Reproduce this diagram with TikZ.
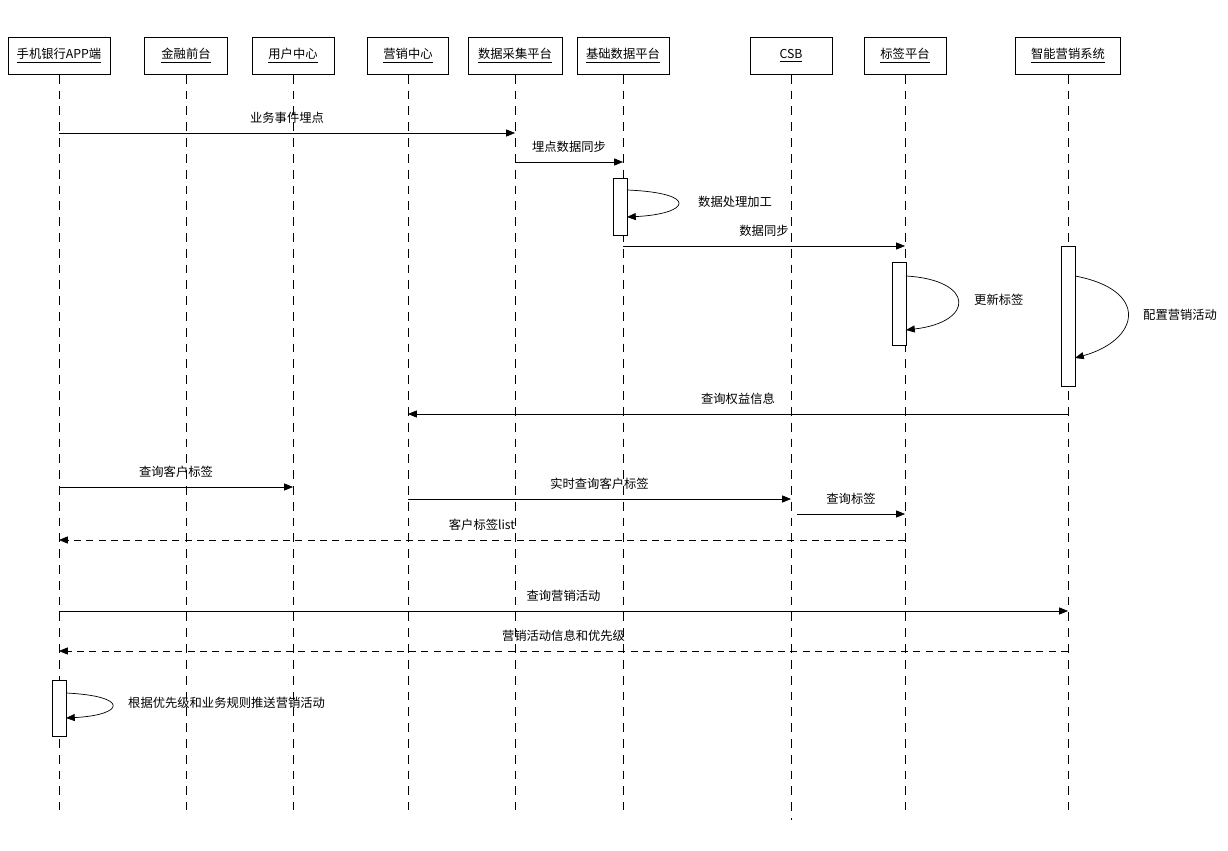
\documentclass[tikz,border=0pt]{standalone}
\usepackage{fontspec}
\newfontfamily\cjk{Noto Sans CJK SC}
\usetikzlibrary{arrows.meta, positioning}
\tikzset{
  head/.style  = {draw, minimum width=#1, minimum height=0.74cm, inner sep=1pt, font=\cjk\fontsize{7}{8}\selectfont},
  life/.style  = {draw, dash pattern=on 5pt off 4pt},
  msg/.style   = {draw, -{Triangle[length=5pt,width=4pt]}},
  reply/.style = {msg, dash pattern=on 4pt off 3pt},
  act/.style   = {draw, fill=white, minimum width=0.28cm, inner sep=0pt},
  lbl/.style   = {font=\cjk\fontsize{7}{8}\selectfont}
}
\begin{document}
\begin{tikzpicture}[x=0.02cm, y=-0.02cm]
\useasboundingbox (0,0) rectangle (1228,851);

% heads
\node [head=2.04cm] (app) at (59,  56) {\underline{手机银行APP端}};
\node [head=1.66cm] (fin) at (186, 56) {\underline{金融前台}};
\node [head=1.64cm] (usr) at (293, 56) {\underline{用户中心}};
\node [head=1.62cm] (mkt) at (408, 56) {\underline{营销中心}};
\node [head=1.88cm] (col) at (515, 56) {\underline{数据采集平台}};
\node [head=1.84cm] (bas) at (623, 56) {\underline{基础数据平台}};
\node [head=1.64cm] (csb) at (791, 56) {\underline{CSB}};
\node [head=1.64cm] (tag) at (905, 56) {\underline{标签平台}};
\node [head=2.10cm] (ism) at (1068,56) {\underline{智能营销系统}};

% lifelines
\foreach \n/\x/\e in {app/59/810, fin/186/810, usr/293/810, mkt/408/810, col/515/810,
                      bas/623/810, csb/791/820, tag/905/810, ism/1068/810} {
  \coordinate (\n end) at (\x,\e);
  \path [life] (\n) -- (\n end);
}

% activations
\node [act, minimum height=1.14cm, anchor=north] (a1) at (620,178) {};
\node [act, minimum height=1.66cm, anchor=north] (a2) at (899,262) {};
\node [act, minimum height=2.80cm, anchor=north] (a3) at (1068,246) {};
\node [act, minimum height=1.12cm, anchor=north] (a4) at (59,680) {};

% points
\foreach \n/\x/\y in {p1/59/133, p2/515/133, p3/515/162, p4/623/162, p5/623/246, p6/905/246,
                      p7/1068/414, p8/408/414, p9/59/487, p10/293/487, p11/408/499, p12/791/499,
                      p13/797/514, p14/905/514, p15/905/540, p16/59/540, p17/59/611, p18/1068/611,
                      p19/1068/651, p20/59/651,
                      l1/627/190, l2/627/217, l3/906/276, l4/906/330, l5/1075/276, l6/1075/358,
                      l7/66/693, l8/66/718}
  \coordinate (\n) at (\x,\y);

% messages
\path [msg]   (p1)  -- node [lbl, above=2pt] {业务事件埋点}     (p2);
\path [msg]   (p3)  -- node [lbl, above=2pt] {埋点数据同步}     (p4);
\path [msg]   (p5)  -- node [lbl, above=2pt] {数据同步}         (p6);
\path [msg]   (p7)  -- node [lbl, above=2pt] {查询权益信息}     (p8);
\path [msg]   (p9)  -- node [lbl, above=2pt] {查询客户标签}     (p10);
\path [msg]   (p11) -- node [lbl, above=2pt] {实时查询客户标签} (p12);
\path [msg]   (p13) -- node [lbl, above=2pt] {查询标签}         (p14);
\path [reply] (p15) -- node [lbl, above=2pt] {客户标签list}     (p16);
\path [msg]   (p17) -- node [lbl, above=2pt] {查询营销活动}     (p18);
\path [reply] (p19) -- node [lbl, above=2pt] {营销活动信息和优先级} (p20);

% self calls
\path [msg] (l1) .. controls (700,193) and (690,214) .. (l2);
\node [lbl, right] at (692,202) {数据处理加工};
\path [msg] (l3) .. controls (975,280) and (975,322) .. (l4);
\node [lbl, right] at (968,300) {更新标签};
\path [msg] (l5) .. controls (1150,290) and (1140,340) .. (l6);
\node [lbl, right] at (1137,315) {配置营销活动};
\path [msg] (l7) .. controls (130,696) and (125,715) .. (l8);
\node [lbl, right] at (122,703) {根据优先级和业务规则推送营销活动};

\end{tikzpicture}
\end{document}
